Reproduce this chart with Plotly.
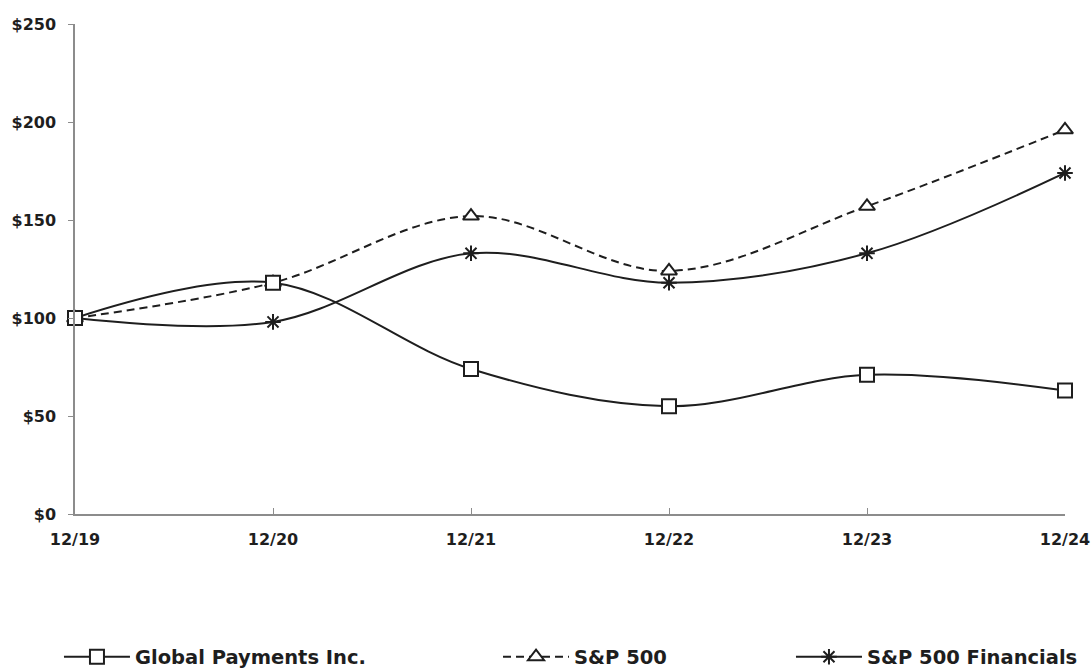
import plotly.graph_objects as go

categories = ["12/19", "12/20", "12/21", "12/22", "12/23", "12/24"]
global_payments = [100, 118, 74, 55, 71, 63]
sp500 = [100, 118, 152, 124, 157, 196]
sp500_fin = [100, 98, 133, 118, 133, 174]
y_ticks = [0, 50, 100, 150, 200, 250]
y_labels = ["$0", "$50", "$100", "$150", "$200", "$250"]

FONT = "DejaVu Sans"
INK = "#1e1e1e"
fig = go.Figure()

fig.add_trace(go.Scatter(
    x=categories, y=sp500_fin, name="S&P 500 Financials", mode="lines+markers",
    line=dict(color=INK, width=2, shape="spline"),
    marker=dict(symbol="asterisk-open", size=13, line=dict(color=INK, width=2)),
    legend="legend3",
))
fig.add_trace(go.Scatter(
    x=categories, y=sp500, name="S&P 500", mode="lines+markers",
    line=dict(color=INK, width=2, shape="spline", dash="8px,5px"),
    marker=dict(symbol="triangle-up", size=14, color="white", line=dict(color=INK, width=2)),
    legend="legend2",
))
fig.add_trace(go.Scatter(
    x=categories, y=global_payments, name="Global Payments Inc.", mode="lines+markers",
    line=dict(color=INK, width=2, shape="spline"),
    marker=dict(symbol="square", size=14, color="white", line=dict(color=INK, width=2)),
    legend="legend",
))

leg_common = dict(orientation="h", yanchor="middle", xanchor="left",
                  font=dict(family=FONT, size=19.5, color=INK, weight="bold"),
                  bgcolor="rgba(0,0,0,0)", itemwidth=66)

fig.update_layout(
    width=1092, height=670,
    margin=dict(l=75, r=27, t=24, b=156, autoexpand=False),
    paper_bgcolor="white", plot_bgcolor="white",
    showlegend=True,
    legend=dict(x=-0.0162, y=-0.292, **leg_common),
    legend2=dict(x=0.4273, y=-0.292, **leg_common),
    legend3=dict(x=0.7232, y=-0.292, **leg_common),
    font=dict(family=FONT, color=INK),
)
fig.update_xaxes(
    type="category", range=[0, 5], showgrid=False, zeroline=False,
    showline=True, linecolor="#8c8c8c", linewidth=1.5,
    ticks="inside", ticklen=6, tickcolor="#8c8c8c",
    tickfont=dict(family=FONT, size=16, color=INK, weight="bold"),
    ticklabelstandoff=10, automargin=False,
)
fig.update_yaxes(
    range=[0, 250], tickvals=y_ticks, ticktext=y_labels,
    showgrid=False, zeroline=False,
    showline=True, linecolor="#8c8c8c", linewidth=1.5,
    ticks="outside", ticklen=5, tickcolor="#8c8c8c",
    tickfont=dict(family=FONT, size=16, color=INK, weight="bold"),
    ticklabelstandoff=9, automargin=False,
)
fig.update_traces(cliponaxis=False)
fig.write_html("out.html")
